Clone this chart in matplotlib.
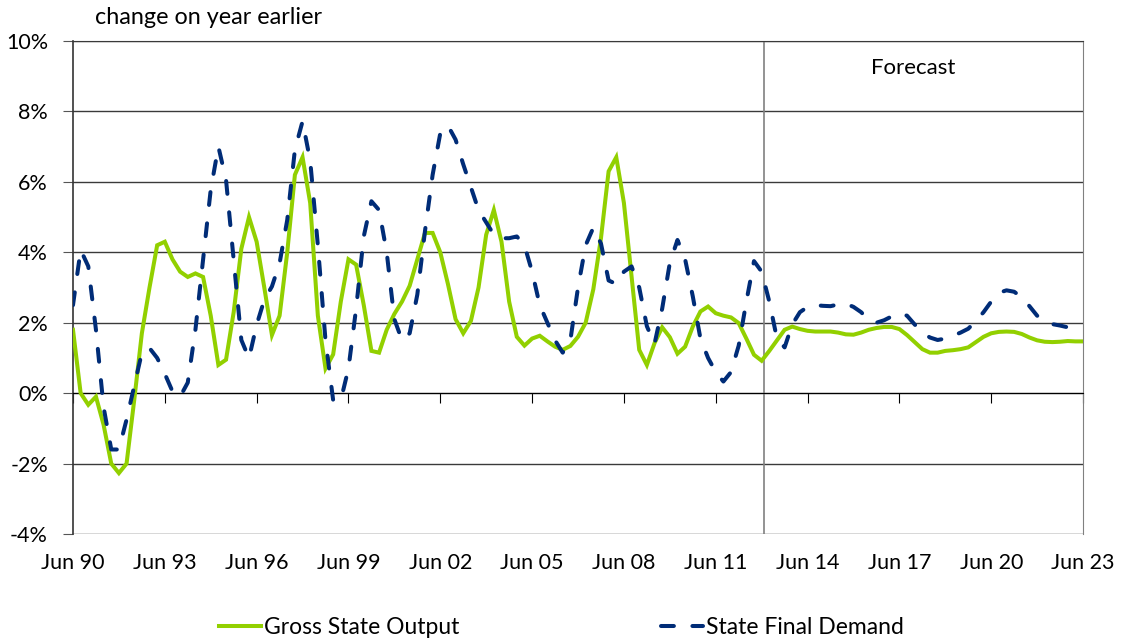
import numpy as np
import matplotlib
matplotlib.use("Agg")
import matplotlib.pyplot as plt

plt.rcParams['font.family'] = ['Lato', 'DejaVu Sans']

# quarterly, Jun 90 .. Jun 23 (year-on-year % change)
tick_labels = ['Jun 90', 'Jun 93', 'Jun 96', 'Jun 99', 'Jun 02', 'Jun 05',
               'Jun 08', 'Jun 11', 'Jun 14', 'Jun 17', 'Jun 20', 'Jun 23']

gso = [1.8, 0.0, -0.33, -0.1, -0.9, -2.0, -2.27, -2.0, -0.2, 1.7,
       3.0, 4.2, 4.3, 3.8, 3.45, 3.3, 3.4, 3.3, 2.2, 0.8,
       0.95, 2.3, 4.1, 5.0, 4.3, 3.0, 1.65, 2.2, 4.0, 6.2,
       6.7, 5.4, 2.2, 0.7, 1.1, 2.6, 3.8, 3.65, 2.5, 1.2,
       1.15, 1.8, 2.25, 2.6, 3.05, 3.8, 4.55, 4.55, 4.0, 3.1,
       2.1, 1.7, 2.05, 3.0, 4.5, 5.2, 4.3, 2.6, 1.6, 1.35,
       1.55, 1.63, 1.47, 1.32, 1.23, 1.34, 1.6, 2.0, 2.95, 4.4,
       6.3, 6.7, 5.4, 3.3, 1.23, 0.8, 1.42, 1.87, 1.59, 1.12,
       1.32, 1.89, 2.32, 2.46, 2.27, 2.2, 2.15, 1.99, 1.55, 1.09,
       0.92, 1.2, 1.5, 1.8, 1.89, 1.82, 1.77, 1.75, 1.75, 1.75,
       1.72, 1.67, 1.66, 1.72, 1.8, 1.85, 1.88, 1.88, 1.82, 1.65,
       1.45, 1.25, 1.15, 1.15, 1.2, 1.22, 1.25, 1.3, 1.45, 1.6,
       1.7, 1.74, 1.75, 1.74, 1.68, 1.58, 1.5, 1.46, 1.45, 1.46,
       1.48, 1.47, 1.47]

sfd = [2.5, 4.07, 3.6, 1.8, -0.4, -1.6, -1.6, -0.75, 0.2, 1.15,
       1.28, 1.0, 0.55, 0.05, -0.1, 0.3, 1.8, 3.79, 5.78, 7.0,
       6.06, 3.79, 1.51, 0.99, 1.94, 2.65, 3.03, 3.69, 4.92, 6.91,
       7.72, 6.6, 4.2, 1.5, -0.2, -0.2, 0.7, 2.4, 4.45, 5.45,
       5.2, 4.0, 2.1, 1.5, 1.7, 2.8, 4.6, 6.2, 7.38, 7.6,
       7.2, 6.5, 5.85, 5.2, 4.85, 4.5, 4.4, 4.4, 4.45, 4.2,
       3.45, 2.5, 2.0, 1.5, 1.15, 1.5, 3.0, 4.2, 4.7, 4.25,
       3.2, 3.1, 3.45, 3.6, 3.0, 1.9, 1.4, 2.4, 3.7, 4.35,
       3.8, 2.75, 1.55, 1.0, 0.6, 0.33, 0.6, 1.35, 2.6, 3.75,
       3.45, 2.6, 1.55, 1.3, 1.95, 2.3, 2.45, 2.5, 2.48, 2.47,
       2.52, 2.54, 2.45, 2.3, 2.08, 2.0, 2.07, 2.18, 2.27, 2.2,
       1.95, 1.72, 1.58, 1.51, 1.55, 1.63, 1.72, 1.83, 2.05, 2.3,
       2.6, 2.85, 2.92, 2.88, 2.72, 2.47, 2.2, 2.05, 1.96, 1.92,
       1.87, 1.83, 1.8]

quarters = np.arange(len(gso))
forecast_start = 90.3

fig = plt.figure(figsize=(11.23, 6.44), dpi=100)
ax = fig.add_axes([0.065, 0.1708, 0.8994, 0.7655])

ax.plot(quarters, gso, color='#92D000', lw=2.9, label='Gross State Output',
        solid_joinstyle='miter', zorder=3)
ax.plot(quarters, sfd, color='#002C77', lw=2.9, label='State Final Demand',
        dashes=(3.2, 4.6), dash_capstyle='round', zorder=4)

ax.axvline(forecast_start, color='#808080', lw=1.2, zorder=2)
ax.text(0.832, 0.945, 'Forecast', transform=ax.transAxes, ha='center',
        va='center', fontsize=16)

ax.set_xlim(0, 132)
ax.set_ylim(-4, 10)
ax.set_yticks(np.arange(-4, 11, 2))
ax.set_yticklabels([f'{v}%' for v in range(-4, 11, 2)], fontsize=15.5)
ax.grid(axis='y', color='#3a3a3a', lw=1.0)
ax.set_axisbelow(True)

ax.spines['bottom'].set_position(('data', 0))
ax.spines['bottom'].set_color('black')
ax.spines['left'].set_color('#333333')
ax.spines['left'].set_linewidth(1.2)
ax.spines['top'].set_color('#3a3a3a')
ax.spines['right'].set_color('#808080')
ax.set_xticks(quarters[::12])
ax.tick_params(axis='x', direction='out', length=7, color='black',
               labelbottom=False)
ax.tick_params(axis='y', direction='out', length=7, color='#555555', pad=11)

sec = ax.secondary_xaxis(0.0)
sec.set_xticks(quarters[::12])
sec.set_xticklabels(tick_labels, fontsize=15.5)
sec.tick_params(length=0, pad=14)
sec.spines['bottom'].set_visible(False)

fig.text(95 / 1123, 1 - 18 / 644, 'change on year earlier', fontsize=16.8,
         va='center', ha='left')

fig.legend(loc='center', bbox_to_anchor=(0.5, 0.025), ncol=2, frameon=False,
           fontsize=16.5, handlelength=1.85, handletextpad=0.12,
           columnspacing=8.8)

fig.savefig('out.png', dpi=100)
